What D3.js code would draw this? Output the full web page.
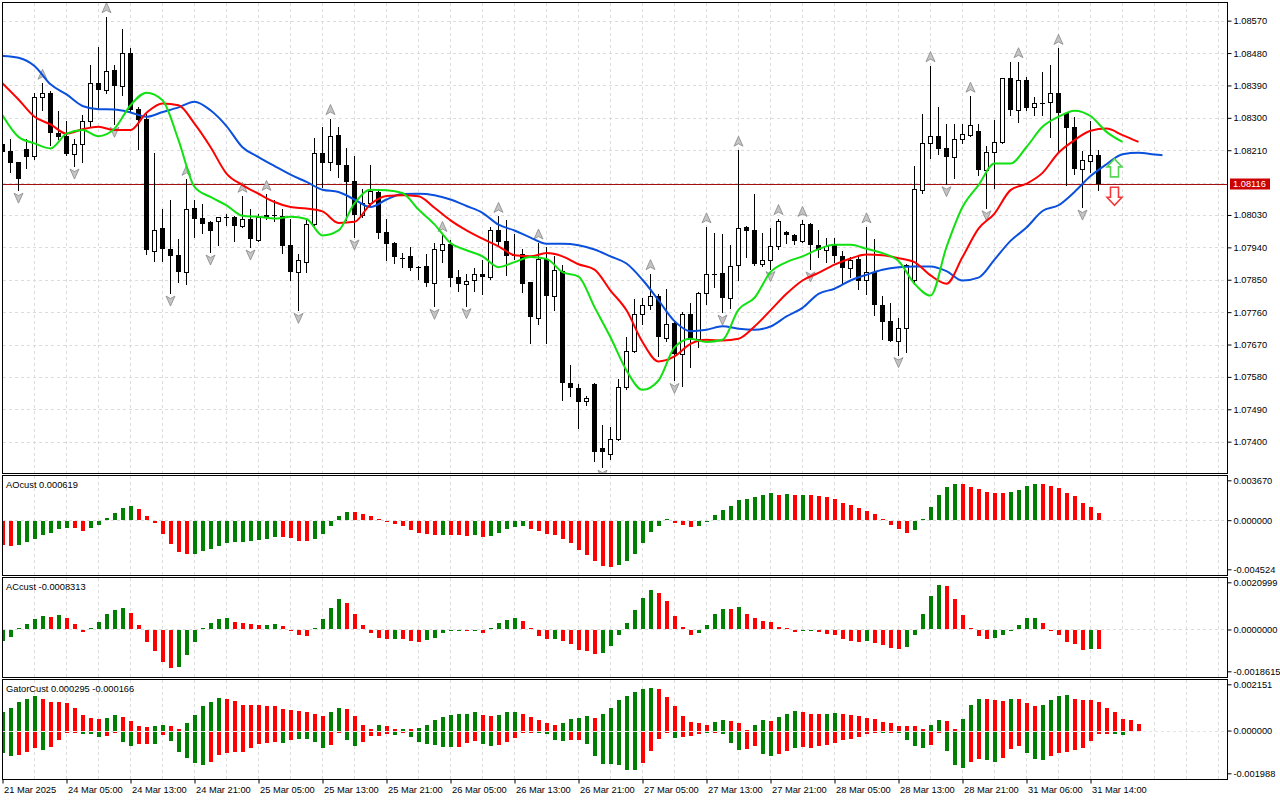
<!DOCTYPE html>
<html>
<head>
<meta charset="utf-8">
<script src="https://d3js.org/d3.v7.min.js"></script>
<style>
body { margin: 0; background: #fff; }
svg text { font-family: "Liberation Sans", Arial, sans-serif; font-size: 9.3px; fill: #000; }
</style>
</head>
<body>
<svg width="1280" height="800"></svg>
<script>
// H1 candles
var open = [
1.08226,1.08207,1.08176,1.08212,1.08194,1.08357,1.08368,1.08258,1.08249,1.08200,
1.08226,1.08290,1.08396,1.08377,1.08432,1.08389,1.08479,1.08324,1.08296,1.07931,
1.07995,1.07936,1.07918,1.07871,1.08050,1.08021,1.08010,1.08014,1.08023,1.08025,
1.07999,1.08020,1.07961,1.08028,1.08031,1.08028,1.07946,1.07871,1.07899,1.08004,
1.08201,1.08178,1.08252,1.08169,1.08124,1.08029,1.08063,1.08093,1.07982,1.07951,
1.07910,1.07917,1.07885,1.07887,1.07841,1.07934,1.07950,1.07857,1.07839,1.07850,
1.07865,1.07857,1.07987,1.07957,1.07918,1.07921,1.07843,1.07744,1.07908,1.07806,
1.07874,1.07564,1.07550,1.07514,1.07561,1.07383,1.07366,1.07408,1.07551,1.07651,
1.07755,1.07779,1.07805,1.07689,1.07729,1.07644,1.07755,1.07686,1.07814,1.07867,
1.07870,1.07799,1.07892,1.07996,1.07989,1.07895,1.07906,1.07945,1.07982,1.07973,
1.07958,1.08006,1.07947,1.07933,1.07946,1.07917,1.07883,1.07908,1.07850,1.07871,
1.07781,1.07734,1.07681,1.07716,1.07848,1.08100,1.08229,1.08249,1.08215,1.08192,
1.08242,1.08253,1.08263,1.08156,1.08206,1.08232,1.08412,1.08323,1.08405,1.08329,
1.08341,1.08343,1.08370,1.08314,1.08274,1.08159,1.08181,1.08196];
var high = [
1.08233,1.08242,1.08178,1.08242,1.08368,1.08396,1.08374,1.08319,1.08291,1.08242,
1.08307,1.08447,1.08497,1.08581,1.08447,1.08547,1.08493,1.08331,1.08312,1.08201,
1.08048,1.08071,1.07962,1.08129,1.08071,1.08060,1.08013,1.08025,1.08034,1.08026,
1.08082,1.08048,1.08034,1.08087,1.08071,1.08046,1.08020,1.07922,1.08015,1.08244,
1.08275,1.08298,1.08275,1.08215,1.08193,1.08103,1.08168,1.08096,1.08018,1.07955,
1.07925,1.07941,1.07887,1.07921,1.07953,1.07973,1.07960,1.07878,1.07867,1.07883,
1.07904,1.07997,1.08026,1.08015,1.07976,1.07936,1.07845,1.07952,1.07941,1.07915,
1.07892,1.07612,1.07561,1.07528,1.07562,1.07445,1.07442,1.07575,1.07690,1.07797,
1.07799,1.07867,1.07811,1.07825,1.07737,1.07760,1.07786,1.07816,1.07997,1.07981,
1.07976,1.07946,1.08210,1.07999,1.08088,1.07981,1.07995,1.08020,1.07985,1.07978,
1.08015,1.08008,1.07987,1.07967,1.07967,1.07930,1.07913,1.07915,1.07997,1.07962,
1.07806,1.07785,1.07744,1.07895,1.08166,1.08312,1.08445,1.08329,1.08284,1.08284,
1.08284,1.08360,1.08282,1.08221,1.08294,1.08411,1.08456,1.08456,1.08414,1.08358,
1.08428,1.08447,1.08493,1.08317,1.08303,1.08207,1.08291,1.08210];
var low = [
1.08199,1.08150,1.08099,1.08161,1.08185,1.08321,1.08224,1.08240,1.08197,1.08166,
1.08176,1.08275,1.08326,1.08370,1.08282,1.08363,1.08320,1.08213,1.07922,1.07902,
1.07902,1.07813,1.07844,1.07838,1.07969,1.07980,1.07927,1.07946,1.08001,1.07958,
1.07997,1.07941,1.07958,1.08020,1.08013,1.07925,1.07848,1.07765,1.07871,1.08001,
1.08108,1.08154,1.08136,1.08015,1.07969,1.08025,1.08057,1.07967,1.07904,1.07896,
1.07885,1.07878,1.07851,1.07832,1.07776,1.07899,1.07834,1.07818,1.07778,1.07818,
1.07811,1.07852,1.07946,1.07862,1.07907,1.07816,1.07675,1.07728,1.07675,1.07767,
1.07517,1.07528,1.07437,1.07502,1.07347,1.07329,1.07352,1.07405,1.07547,1.07649,
1.07728,1.07769,1.07637,1.07681,1.07570,1.07556,1.07607,1.07663,1.07783,1.07830,
1.07760,1.07772,1.07850,1.07913,1.07890,1.07888,1.07881,1.07936,1.07953,1.07948,
1.07955,1.07880,1.07913,1.07899,1.07899,1.07841,1.07857,1.07824,1.07809,1.07753,
1.07684,1.07679,1.07642,1.07649,1.07844,1.08091,1.08189,1.08199,1.08117,1.08133,
1.08230,1.08250,1.08142,1.08050,1.08106,1.08229,1.08307,1.08289,1.08321,1.08307,
1.08307,1.08247,1.08205,1.08114,1.08145,1.08052,1.08150,1.08100];
var close = [
1.08205,1.08175,1.08129,1.08191,1.08357,1.08370,1.08258,1.08247,1.08200,1.08226,
1.08290,1.08396,1.08377,1.08430,1.08389,1.08479,1.08321,1.08295,1.07934,1.07989,
1.07935,1.07916,1.07871,1.08048,1.08019,1.08005,1.07986,1.08023,1.08022,1.07999,
1.08020,1.07963,1.08025,1.08031,1.08028,1.07944,1.07871,1.07904,1.08006,1.08201,
1.08175,1.08249,1.08169,1.08122,1.08029,1.08062,1.08096,1.07980,1.07949,1.07913,
1.07907,1.07883,1.07882,1.07841,1.07935,1.07950,1.07855,1.07838,1.07846,1.07867,
1.07858,1.07989,1.07955,1.07916,1.07915,1.07839,1.07746,1.07907,1.07806,1.07876,
1.07562,1.07549,1.07510,1.07521,1.07370,1.07370,1.07408,1.07551,1.07651,1.07755,
1.07781,1.07805,1.07690,1.07728,1.07644,1.07755,1.07686,1.07814,1.07867,1.07866,
1.07799,1.07889,1.07994,1.07986,1.07894,1.07906,1.07945,1.08012,1.07975,1.07958,
1.08006,1.07947,1.07933,1.07944,1.07916,1.07883,1.07906,1.07846,1.07871,1.07780,
1.07732,1.07681,1.07716,1.07890,1.08103,1.08229,1.08249,1.08214,1.08191,1.08242,
1.08255,1.08279,1.08154,1.08206,1.08234,1.08410,1.08323,1.08405,1.08328,1.08340,
1.08342,1.08370,1.08314,1.08273,1.08159,1.08183,1.08196,1.08116];

// Alligator lines, read every second bar (jaw also at its last bar 145)
var jawBars = d3.range(0, 145, 2).concat([145]);
var jaw = [
1.08472,1.08467,1.08444,1.08393,1.08365,1.08333,1.08324,1.08323,1.08315,1.08303,
1.08316,1.08329,1.08345,1.08321,1.08277,1.08218,1.08191,1.08166,1.08142,1.08122,
1.08100,1.08094,1.08073,1.08052,1.08073,1.08088,1.08089,1.08085,1.08073,1.08055,
1.08036,1.08003,1.07987,1.07967,1.07950,1.07950,1.07946,1.07934,1.07915,1.07895,
1.07850,1.07793,1.07735,1.07707,1.07711,1.07721,1.07714,1.07711,1.07720,1.07748,
1.07772,1.07811,1.07825,1.07848,1.07864,1.07878,1.07885,1.07887,1.07887,1.07874,
1.07848,1.07856,1.07906,1.07958,1.07995,1.08041,1.08057,1.08094,1.08138,1.08171,
1.08199,1.08203,1.08198,1.08196];
var teethBars = d3.range(0, 143, 2);
var teeth = [
1.08396,1.08351,1.08303,1.08282,1.08256,1.08268,1.08275,1.08266,1.08266,1.08314,
1.08340,1.08335,1.08284,1.08219,1.08145,1.08113,1.08089,1.08066,1.08052,1.08048,
1.08040,1.08008,1.08011,1.08060,1.08083,1.08085,1.08082,1.08050,1.08015,1.07987,
1.07964,1.07943,1.07918,1.07915,1.07924,1.07915,1.07893,1.07878,1.07820,1.07765,
1.07677,1.07623,1.07637,1.07672,1.07683,1.07681,1.07686,1.07720,1.07765,1.07811,
1.07848,1.07869,1.07892,1.07909,1.07920,1.07918,1.07910,1.07899,1.07862,1.07839,
1.07913,1.07992,1.08034,1.08099,1.08117,1.08147,1.08203,1.08238,1.08264,1.08270,
1.08252,1.08233];
var lipsBars = d3.range(0, 141, 2);
var lips = [
1.08307,1.08247,1.08229,1.08215,1.08256,1.08266,1.08249,1.08270,1.08335,1.08370,
1.08349,1.08238,1.08108,1.08080,1.08057,1.08028,1.08025,1.08020,1.08025,1.08019,
1.07973,1.07987,1.08062,1.08100,1.08099,1.08091,1.08045,1.08004,1.07952,1.07932,
1.07915,1.07885,1.07899,1.07913,1.07908,1.07871,1.07859,1.07774,1.07690,1.07598,
1.07544,1.07570,1.07662,1.07686,1.07677,1.07683,1.07767,1.07800,1.07871,1.07899,
1.07915,1.07935,1.07947,1.07947,1.07936,1.07924,1.07902,1.07839,1.07806,1.07941,
1.08052,1.08113,1.08173,1.08173,1.08219,1.08275,1.08303,1.08320,1.08305,1.08261,
1.08233];

var fractalUp = [5,13,23,30,33,41,55,62,67,81,88,92,97,100,108,116,121,127,132];
var fractalDown = [2,9,14,21,26,31,37,44,54,58,75,84,90,96,101,112,118,123,135];
var signalUp = {bar: 139, price: 1.08186};
var signalDown = {bar: 139, price: 1.08107};
var lastPrice = 1.08116;

// AO
var ao = [
-0.00224,-0.00230,-0.00218,-0.00193,-0.00163,-0.00126,-0.00107,-0.00071,-0.00064,-0.00064,
-0.00089,-0.00061,-0.00034,0.00018,0.00064,0.00110,0.00129,0.00101,0.00037,-0.00021,
-0.00117,-0.00209,-0.00288,-0.00304,-0.00301,-0.00273,-0.00255,-0.00230,-0.00199,-0.00193,
-0.00190,-0.00181,-0.00172,-0.00163,-0.00144,-0.00147,-0.00156,-0.00181,-0.00187,-0.00163,
-0.00117,-0.00043,0.00037,0.00077,0.00074,0.00055,0.00040,0.00011,-0.00005,-0.00025,
-0.00046,-0.00080,-0.00110,-0.00117,-0.00126,-0.00126,-0.00126,-0.00126,-0.00135,-0.00126,
-0.00144,-0.00135,-0.00107,-0.00071,-0.00052,-0.00043,-0.00071,-0.00089,-0.00117,-0.00126,
-0.00163,-0.00199,-0.00264,-0.00310,-0.00365,-0.00411,-0.00420,-0.00402,-0.00365,-0.00301,
-0.00199,-0.00098,-0.00043,0.00006,-0.00015,-0.00034,-0.00052,-0.00043,-0.00012,0.00046,
0.00095,0.00132,0.00184,0.00193,0.00213,0.00230,0.00248,0.00230,0.00239,0.00230,
0.00230,0.00230,0.00221,0.00212,0.00193,0.00156,0.00138,0.00110,0.00083,0.00055,
0.00009,-0.00034,-0.00071,-0.00107,-0.00080,0.00012,0.00120,0.00230,0.00304,0.00331,
0.00331,0.00304,0.00285,0.00258,0.00248,0.00248,0.00258,0.00276,0.00313,0.00331,
0.00331,0.00313,0.00294,0.00248,0.00221,0.00156,0.00120,0.000619];
var aoColor = "rrgggggggr" + "rggggggrrr" + "rrrrgggggg" + "gggggrrrrg" + "ggggrrrrrr" +
  "rrrrrgrrrg" + "rgggggrrrr" + "rrrrrrrggg" + "ggggrrrggg" + "gggggggrgr" +
  "grrrrrrrrr" + "rrrrgggggg" + "rrrrrrgggg" + "rrrrrrrr";

// AC
var ac = [
-0.00045,-0.00028,0.00003,0.00024,0.00046,0.00059,0.00055,0.00064,0.00051,0.00024,
-0.00006,0.00006,0.00033,0.00068,0.00086,0.00095,0.00073,0.00019,-0.00051,-0.00091,
-0.00140,-0.00166,-0.00162,-0.00108,-0.00051,0.00001,0.00028,0.00046,0.00051,0.00033,
0.00028,0.00024,0.00019,0.00021,0.00024,0.00015,-0.00003,-0.00019,-0.00024,0.00006,
0.00046,0.00095,0.00135,0.00117,0.00068,0.00019,-0.00013,-0.00034,-0.00037,-0.00037,
-0.00037,-0.00046,-0.00051,-0.00042,-0.00033,-0.00010,-0.00003,-0.00001,-0.00001,-0.00001,
-0.00010,0.00001,0.00028,0.00042,0.00051,0.00037,0.00001,-0.00024,-0.00037,-0.00037,
-0.00046,-0.00059,-0.00086,-0.00091,-0.00104,-0.00100,-0.00068,-0.00019,0.00028,0.00086,
0.00140,0.00175,0.00162,0.00126,0.00059,0.00010,-0.00019,-0.00010,0.00019,0.00068,
0.00091,0.00091,0.00100,0.00068,0.00051,0.00037,0.00033,0.00010,0.00006,-0.00006,
-0.00001,-0.00001,-0.00006,-0.00015,-0.00019,-0.00037,-0.00046,-0.00051,-0.00046,-0.00055,
-0.00064,-0.00077,-0.00082,-0.00073,-0.00019,0.00068,0.00149,0.00198,0.00193,0.00135,
0.00064,0.00004,-0.00024,-0.00037,-0.00033,-0.00019,-0.00003,0.00019,0.00051,0.00051,
0.00028,-0.00001,-0.00019,-0.00051,-0.00059,-0.00086,-0.00082,-0.0008313];
var acColor = "ggggggrgrr" + "rgggggrrrr" + "rrgggggggr" + "rrrggrrrrg" + "gggrrrrrrg" +
  "rrrgggggrg" + "rggggrrrrg" + "rrrrrggggg" + "ggrrrrrggg" + "grgrrrrrrr" +
  "ggrrrrrrgr" + "rrrgggggrr" + "rrrrgggggg" + "rrrrrrgr";

// Gator, upper and lower (lower stored as size, drawn below zero)
var gatorUp = [
0.00088,0.00104,0.00135,0.00149,0.00160,0.00146,0.00135,0.00133,0.00126,0.00104,
0.00074,0.00060,0.00056,0.00060,0.00071,0.00065,0.00045,0.00019,0.00016,0.00019,
0.00028,0.00023,0.00008,0.00033,0.00074,0.00112,0.00133,0.00153,0.00147,0.00138,
0.00121,0.00121,0.00120,0.00116,0.00112,0.00098,0.00097,0.00091,0.00088,0.00076,
0.00070,0.00084,0.00104,0.00102,0.00070,0.00028,0.00009,0.00028,0.00019,0.00005,
0.00009,0.00005,0.00014,0.00028,0.00047,0.00065,0.00071,0.00076,0.00079,0.00084,
0.00074,0.00070,0.00071,0.00084,0.00085,0.00079,0.00065,0.00047,0.00033,0.00028,
0.00037,0.00056,0.00060,0.00070,0.00060,0.00079,0.00107,0.00144,0.00163,0.00177,
0.00191,0.00200,0.00191,0.00158,0.00112,0.00070,0.00042,0.00033,0.00028,0.00042,
0.00047,0.00046,0.00033,0.00003,0.00028,0.00047,0.00046,0.00065,0.00079,0.00093,
0.00084,0.00079,0.00078,0.00079,0.00080,0.00079,0.00074,0.00070,0.00060,0.00056,
0.00042,0.00037,0.00023,0.00022,0.00019,0.00005,0.00028,0.00047,0.00046,0.00009,
0.00056,0.00121,0.00149,0.00148,0.00140,0.00139,0.00149,0.00148,0.00126,0.00112,
0.00121,0.00144,0.00163,0.00164,0.00149,0.00144,0.00140,0.00135,0.00107,0.00088,
0.00056,0.00047,0.000295];
var gatorUpColor = "gggggrrrrr" + "rrrggrrrrg" + "grrgggggrr" + "rrrrrrrrrr" + "rggrrrrgrr" +
  "grgggggggg" + "rrgggrrrrr" + "ggggrggggg" + "ggrrrrrrrg" + "grrrggrggg" +
  "rrrggrrrrr" + "rrrrrrggrr" + "gggrrrgrrr" + "ggggrrrrrr" + "rrr";
var gatorDown = [
0.00098,0.00113,0.00110,0.00093,0.00078,0.00084,0.00073,0.00037,0.00005,0.00003,
0.00011,0.00012,0.00026,0.00022,0.00008,0.00047,0.00068,0.00056,0.00056,0.00059,
0.00017,0.00045,0.00093,0.00124,0.00144,0.00157,0.00143,0.00110,0.00098,0.00096,
0.00095,0.00078,0.00056,0.00051,0.00048,0.00054,0.00037,0.00033,0.00033,0.00050,
0.00078,0.00064,0.00005,0.00040,0.00068,0.00050,0.00022,0.00022,0.00012,0.00017,
0.00003,0.00026,0.00050,0.00059,0.00064,0.00073,0.00074,0.00073,0.00054,0.00045,
0.00059,0.00068,0.00064,0.00050,0.00031,0.00003,0.00002,0.00004,0.00012,0.00040,
0.00045,0.00040,0.00039,0.00059,0.00115,0.00152,0.00153,0.00157,0.00180,0.00181,
0.00147,0.00091,0.00036,0.00003,0.00031,0.00026,0.00022,0.00012,0.00008,0.00003,
0.00012,0.00054,0.00087,0.00082,0.00068,0.00105,0.00115,0.00105,0.00091,0.00078,
0.00073,0.00078,0.00068,0.00064,0.00054,0.00040,0.00036,0.00026,0.00012,0.00003,
0.00004,0.00002,0.00008,0.00040,0.00068,0.00078,0.00064,0.00003,0.00091,0.00155,
0.00171,0.00143,0.00129,0.00133,0.00143,0.00124,0.00082,0.00068,0.00101,0.00129,
0.00130,0.00115,0.00101,0.00096,0.00087,0.00078,0.00045,0.00012,0.00011,0.00012,
0.000166];
var gatorDownColor = "ggrrrgrrrr" + "gggrrggrrg" + "rgggggrrrr" + "rrrrrgrggg" + "grrggrrrrg" +
  "rggggggrrr" + "ggrrrrrggg" + "grrggggggg" + "rrrrgrrrgr" + "gggrrggrrg" +
  "rrrrrrrrrr" + "grggggrrgg" + "grrggrrrgg" + "grrrrrrrrg" + "g";

var priceTicks = [1.0857,1.0848,1.0839,1.0830,1.0821,1.0812,1.0803,1.0794,1.0785,1.0776,1.0767,1.0758,1.0749,1.0740];
var aoTicks = [-0.004524, 0, 0.003670];
var acTicks = [-0.0018615, 0, 0.0020999];
var gatorTicks = [-0.001988, 0, 0.002151];
var timeBars = [0,8,16,24,32,40,48,56,64,72,80,88,96,104,112,120,128,136];
var timeLabels = ["21 Mar 2025","24 Mar 05:00","24 Mar 13:00","24 Mar 21:00","25 Mar 05:00",
  "25 Mar 13:00","25 Mar 21:00","26 Mar 05:00","26 Mar 13:00","26 Mar 21:00","27 Mar 05:00",
  "27 Mar 13:00","27 Mar 21:00","28 Mar 05:00","28 Mar 13:00","28 Mar 21:00","31 Mar 06:00","31 Mar 14:00"];

var GREEN = "#008000", RED = "#ff0000", GRID = "#dcdcdc";

var svg = d3.select("svg");
var left = 2, right = 1227;
var panels = [
  {name: "main", top: 2, bottom: 473},
  {name: "ao", top: 475, bottom: 575},
  {name: "ac", top: 577, bottom: 677},
  {name: "gator", top: 679, bottom: 779}
];

var x = d3.scaleLinear().domain([0, 152]).range([2.5, 2.5 + 8 * 152]);
var y = d3.scaleLinear().domain([1.0740, 1.0857]).range([441.67, 20.67]);
function subScale(p, t) {
  return d3.scaleLinear().domain([t[0], t[2]]).range([p.bottom - 5.7, p.top + 5.3]);
}
var yAO = subScale(panels[1], aoTicks);
var yAC = subScale(panels[2], acTicks);
var yG = subScale(panels[3], gatorTicks);

var defs = svg.append("defs");
panels.forEach(function(p) {
  defs.append("clipPath").attr("id", "clip-" + p.name)
    .append("rect")
    .attr("x", left + 1).attr("y", p.top + 1)
    .attr("width", right - left - 1).attr("height", p.bottom - p.top - 1);
});

// vertical grid, every 4 bars
var gridBars = d3.range(4, 153, 4);
panels.forEach(function(p) {
  svg.append("g").selectAll("line").data(gridBars).join("line")
    .attr("x1", function(d) { return x(d); }).attr("x2", function(d) { return x(d); })
    .attr("y1", p.top + 1).attr("y2", p.bottom)
    .attr("stroke", GRID).attr("stroke-dasharray", "3,3");
});

// horizontal grid of the price panel
svg.append("g").selectAll("line").data(priceTicks).join("line")
  .attr("x1", left + 1).attr("x2", right)
  .attr("y1", function(d) { return Math.round(y(d)) + 0.5; })
  .attr("y2", function(d) { return Math.round(y(d)) + 0.5; })
  .attr("stroke", GRID).attr("stroke-dasharray", "3,3");

// zero lines of AO and AC
[[panels[1], yAO], [panels[2], yAC]].forEach(function(a) {
  var z = Math.round(a[1](0)) + 0.5;
  svg.append("line").attr("x1", left + 1).attr("x2", right).attr("y1", z).attr("y2", z)
    .attr("stroke", GRID).attr("stroke-dasharray", "3,3");
});

// last price line
var yl = Math.round(y(lastPrice)) + 0.5;
svg.append("line").attr("x1", left + 1).attr("x2", right).attr("y1", yl).attr("y2", yl)
  .attr("stroke", "#a31010");

// candles
var gMain = svg.append("g").attr("clip-path", "url(#clip-main)");
var bars = d3.range(close.length);
gMain.append("g").selectAll("line").data(bars).join("line")
  .attr("x1", function(i) { return x(i); }).attr("x2", function(i) { return x(i); })
  .attr("y1", function(i) { return Math.round(y(high[i])); })
  .attr("y2", function(i) { return Math.round(y(low[i])) + 1; })
  .attr("stroke", "#000");
gMain.append("g").selectAll("rect").data(bars).join("rect")
  .attr("x", function(i) { return close[i] >= open[i] ? x(i) - 2 : x(i) - 2.5; })
  .attr("width", function(i) { return close[i] >= open[i] ? 4 : 5; })
  .attr("y", function(i) {
    var t = Math.round(y(Math.max(open[i], close[i])));
    return close[i] >= open[i] ? t + 0.5 : t;
  })
  .attr("height", function(i) {
    var h = Math.round(y(Math.min(open[i], close[i]))) - Math.round(y(Math.max(open[i], close[i])));
    return close[i] >= open[i] ? Math.max(0.01, h) : Math.max(1, h);
  })
  .attr("fill", function(i) { return close[i] >= open[i] ? "#fff" : "#000"; })
  .attr("stroke", function(i) { return close[i] >= open[i] ? "#000" : "none"; });

// fractals
var upShape = "M0,-5L4.5,5L0,2.5L-4.5,5Z";
var dnShape = "M0,5L4.5,-5L0,-2.5L-4.5,-5Z";
gMain.append("g").selectAll("path").data(fractalUp).join("path")
  .attr("d", upShape)
  .attr("transform", function(i) { return "translate(" + x(i) + "," + (y(high[i]) - 9) + ")"; })
  .attr("fill", "#c4c4c4").attr("stroke", "#888").attr("stroke-width", 0.8);
gMain.append("g").selectAll("path").data(fractalDown).join("path")
  .attr("d", dnShape)
  .attr("transform", function(i) { return "translate(" + x(i) + "," + (y(low[i]) + 8) + ")"; })
  .attr("fill", "#c4c4c4").attr("stroke", "#888").attr("stroke-width", 0.8);

// alligator
var line = d3.line()
  .x(function(d) { return x(d[0]); })
  .y(function(d) { return y(d[1]); })
  .curve(d3.curveMonotoneX);
[[jawBars, jaw, "#0a50dc"], [teethBars, teeth, "#ff0000"], [lipsBars, lips, "#11e011"]].forEach(function(s) {
  gMain.append("path")
    .datum(s[0].map(function(b, k) { return [b, s[1][k]]; }))
    .attr("d", line)
    .attr("fill", "none").attr("stroke", s[2]).attr("stroke-width", 2);
});

// signal arrows
var sx = x(signalUp.bar), su = y(signalUp.price);
gMain.append("path")
  .attr("d", "M" + sx + "," + su + "l7.5,8h-3.5v10h-8v-10h-3.5z")
  .attr("fill", "#fff").attr("stroke", "#55d455").attr("stroke-width", 1.6);
var sd = y(signalDown.price);
gMain.append("path")
  .attr("d", "M" + (sx - 4) + "," + sd + "h8v10h3.5l-7.5,8l-7.5,-8h3.5z")
  .attr("fill", "#fff").attr("stroke", "#f23a3a").attr("stroke-width", 1.6);

// histograms
function histogram(name, ys, vals, cols, sign) {
  var z = Math.round(ys(0));
  svg.append("g").attr("clip-path", "url(#clip-" + name + ")")
    .selectAll("rect").data(vals).join("rect")
    .attr("x", function(v, i) { return x(i) - 1.5; })
    .attr("width", 4)
    .attr("y", function(v) {
      var e = Math.round(ys(sign * v));
      return sign * v >= 0 ? Math.min(e, z - 1) : z + 1;
    })
    .attr("height", function(v) {
      var e = Math.round(ys(sign * v));
      return sign * v >= 0 ? Math.max(1, z - e) : Math.max(1, e - z);
    })
    .attr("fill", function(v, i) { return cols[i] === "g" ? GREEN : RED; });
}
histogram("ao", yAO, ao, aoColor, 1);
histogram("ac", yAC, ac, acColor, 1);
histogram("gator", yG, gatorUp, gatorUpColor, 1);
histogram("gator", yG, gatorDown, gatorDownColor, -1);
var zg = Math.round(yG(0)) + 0.5;
svg.append("line").attr("x1", left + 1).attr("x2", right).attr("y1", zg).attr("y2", zg)
  .attr("stroke", "#e4e4e4").attr("stroke-dasharray", "3,3");

// frames
panels.forEach(function(p) {
  svg.append("rect")
    .attr("x", left + 0.5).attr("y", p.top + 0.5)
    .attr("width", right - left).attr("height", p.bottom - p.top)
    .attr("fill", "none").attr("stroke", "#000");
});

// axes
function noDomain(g) { g.select(".domain").remove(); }
svg.append("g").attr("transform", "translate(" + (right + 0.5) + ",0)")
  .call(d3.axisRight(y)
    .tickValues(priceTicks.filter(function(p) { return Math.abs(p - lastPrice) > 0.0002; }))
    .tickFormat(function(d) { return d.toFixed(5); })
    .tickSize(4).tickPadding(2))
  .call(noDomain);
[[yAO, aoTicks, 6], [yAC, acTicks, 7], [yG, gatorTicks, 6]].forEach(function(a) {
  svg.append("g").attr("transform", "translate(" + (right + 0.5) + ",0)")
    .call(d3.axisRight(a[0]).tickValues(a[1])
      .tickFormat(function(d) { return d.toFixed(a[2]); })
      .tickSize(4).tickPadding(2))
    .call(noDomain);
});
svg.append("g").attr("transform", "translate(0," + (panels[3].bottom + 0.5) + ")")
  .call(d3.axisBottom(x).tickValues(timeBars)
    .tickFormat(function(d, i) { return timeLabels[i]; })
    .tickSize(4).tickPadding(3))
  .call(noDomain)
  .selectAll("text").attr("text-anchor", "start").attr("x", 1);

// last price tag
svg.append("rect").attr("x", right + 3).attr("y", yl - 6).attr("width", 40).attr("height", 11)
  .attr("fill", "#cc0000");
svg.append("text").attr("x", right + 6).attr("y", yl).attr("dy", "0.32em")
  .style("fill", "#fff").text(lastPrice.toFixed(5));

// indicator titles
svg.append("text").attr("x", 6).attr("y", panels[1].top + 12.5)
  .text("AOcust " + ao[ao.length - 1].toFixed(6));
svg.append("text").attr("x", 6).attr("y", panels[2].top + 12.5)
  .text("ACcust " + ac[ac.length - 1].toFixed(7));
svg.append("text").attr("x", 6).attr("y", panels[3].top + 12.5)
  .text("GatorCust " + gatorUp[gatorUp.length - 1].toFixed(6) + " " + (-gatorDown[gatorDown.length - 1]).toFixed(6));
</script>
</body>
</html>
